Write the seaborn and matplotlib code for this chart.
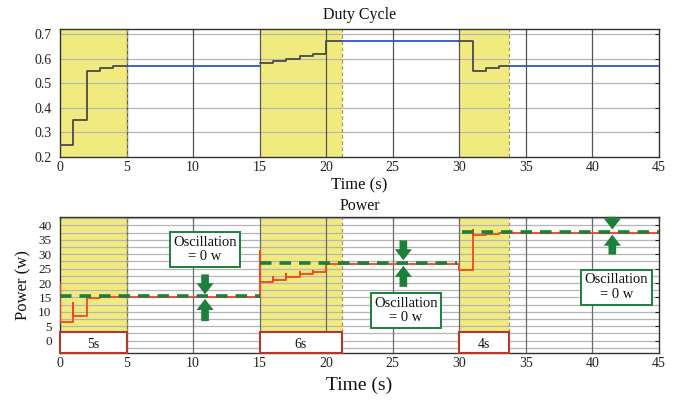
import matplotlib
matplotlib.use("Agg")
import matplotlib.pyplot as plt
import seaborn as sns
import numpy as np
from matplotlib.patches import Rectangle
from matplotlib.ticker import MultipleLocator

# ---------------- data ----------------
# Duty cycle step function (change times and levels)
duty_times = [0, 1, 2, 3, 4, 15, 16, 17, 18, 19, 20, 31, 32, 33]
duty_levels = [0.25, 0.35, 0.55, 0.56, 0.57, 0.58, 0.59, 0.60, 0.61, 0.62, 0.67, 0.55, 0.56, 0.57]

# Power step function: change times, settled levels and the overshoot at each change
power_times = [0, 1, 2, 3, 15, 16, 17, 18, 19, 20, 30, 31, 32, 33]
power_levels = [6.5, 8.5, 14.8, 15.2, 20.4, 21.2, 22.2, 23.0, 23.8, 26.6, 24.4, 36.6, 37.1, 37.3]
power_spikes = [20.0, 13.0, 15.2, 15.2, 31.0, 22.0, 23.0, 24.0, 24.2, 26.6, 24.4, 38.3, 37.2, 37.3]

# Reference (maximum) power levels, dashed green
ref_starts = [0, 15, 30.2]
ref_ends = [15, 29.8, 45]
ref_levels = [15.45, 27.0, 37.7]

# Tracking windows
win_starts = [0, 15, 30]
win_ends = [5, 21.2, 33.7]
win_labels = ["5s", "6s", "4s"]

# Oscillation annotations
osc_times = [10.9, 25.8, 41.5]
osc_down_from = [23.0, 34.8, 43.0]
osc_down_to = [16.1, 27.9, 38.6]
osc_up_from = [6.8, 18.7, 29.9]
osc_up_to = [14.5, 26.0, 36.8]
osc_box_x = [10.9, 26.0, 41.8]
osc_box_y = [31.7, 10.4, 18.6]
osc_text = "Oscillation\n= 0 w"

T_END = 45

# ---------------- style ----------------
sns.set_theme(style="white")
plt.rcParams["font.family"] = ["Liberation Serif", "DejaVu Serif"]

YELLOW = "#f1eb7f"
EDGE_Y = "#a39d45"
BLUE = "#2b57c0"
GRAYLINE = "#4a4a4a"
RED = "#f5451e"
GREEN = "#1d7f3c"
BOXRED = "#b23a2a"
VGRID = "#555555"
HGRID = "#b5b5b5"


def step_value(times, levels, t, before=False):
    v = levels[0]
    for ti, lv in zip(times, levels):
        if ti < t or (ti == t and not before):
            v = lv
    return v


def step_xy(times, levels, t0, t1):
    xs = [t0]
    ys = [step_value(times, levels, t0)]
    for ti, lv in zip(times, levels):
        if t0 < ti < t1:
            xs += [ti, ti]
            ys += [ys[-1], lv]
    xs.append(t1)
    ys.append(step_value(times, levels, t1, before=True))
    return xs, ys


fig = plt.figure(figsize=(6.8, 4.0), dpi=100)
ax1 = fig.add_axes([0.0882, 0.6075, 0.8808, 0.32])
ax2 = fig.add_axes([0.0882, 0.118, 0.8808, 0.34])


def style_axes(ax, vgrid):
    ax.set_xlim(0, T_END)
    ax.xaxis.set_major_locator(MultipleLocator(5))
    ax.tick_params(direction="in", length=3, width=0.8, top=True, right=True,
                   labelsize=10, colors="#222222")
    ax.tick_params(axis="x", pad=3)
    ax.tick_params(axis="y", pad=6)
    for s in ax.spines.values():
        s.set_color("#333333")
        s.set_linewidth(1.0)
    ax.set_axisbelow("line")
    ax.grid(False)
    for x in range(5, T_END, 5):
        ax.axvline(x, color=vgrid, lw=0.9, zorder=1.6)


# ---------------- top: duty cycle ----------------
ax1.set_ylim(0.2, 0.72)
style_axes(ax1, VGRID)
ax1.set_yticks([0.2, 0.3, 0.4, 0.5, 0.6, 0.7])
ax1.set_yticklabels(["0.2", "0.3", "0.4", "0.5", "0.6", "0.7"])
for y in [0.3, 0.4, 0.5, 0.6, 0.7]:
    ax1.axhline(y, color=HGRID, lw=0.9, zorder=1.5)
for a, b in zip(win_starts, win_ends):
    ax1.axvspan(a, b, color=YELLOW, lw=0, zorder=1)
    ax1.axvline(b, color=EDGE_Y, lw=0.9, ls=(0, (3, 2)), zorder=1.7)

bounds = sorted(set([0] + win_starts + win_ends + [T_END]))
for a, b in zip(bounds[:-1], bounds[1:]):
    inside = any(ws <= a and b <= we for ws, we in zip(win_starts, win_ends))
    xs, ys = step_xy(duty_times, duty_levels, a, b)
    sns.lineplot(x=xs, y=ys, ax=ax1, color=GRAYLINE if inside else BLUE,
                 lw=1.3, estimator=None, sort=False, zorder=3)

ax1.set_title("Duty Cycle", fontsize=11.5, pad=7, color="#111111")
ax1.set_xlabel("Time (s)", fontsize=12, labelpad=2, color="#111111")
ax1.set_ylabel("")

# ---------------- bottom: power ----------------
YMIN2, YMAX2 = -4.2, 43
BOX_TOP = 2.9
ax2.set_ylim(YMIN2, YMAX2)
style_axes(ax2, "#6a6a6a")
ax2.set_yticks(list(range(0, 41, 5)))
ax2.tick_params(axis="y", labelsize=9.5)
for y in np.arange(-2.5, 42.6, 2.5):
    ax2.axhline(y, color=HGRID, lw=0.9, zorder=1.5)

for a, b, lab in zip(win_starts, win_ends, win_labels):
    ax2.fill_between([a, b], BOX_TOP, YMAX2, color=YELLOW, lw=0, zorder=1)
    ax2.plot([b, b], [BOX_TOP, YMAX2], color=EDGE_Y, lw=0.9, ls=(0, (3, 2)), zorder=1.7)
    ax2.add_patch(Rectangle((a, YMIN2), b - a, BOX_TOP - YMIN2, facecolor="white",
                            edgecolor=BOXRED, lw=1.5, zorder=4, clip_on=False))
    ax2.text((a + b) / 2, (YMIN2 + BOX_TOP) / 2 - 0.5, lab, ha="center", va="center",
             fontsize=10, zorder=5, color="#111111")

# power curve
px, py = [0, 0], [power_spikes[0], power_levels[0]]
for i in range(1, len(power_times)):
    t = power_times[i]
    px += [t, t, t]
    py += [power_levels[i - 1], power_spikes[i], power_levels[i]]
px.append(T_END)
py.append(power_levels[-1])
sns.lineplot(x=px, y=py, ax=ax2, color=RED, lw=1.3, estimator=None, sort=False, zorder=3)

# reference dashed
for a, b, lv in zip(ref_starts, ref_ends, ref_levels):
    sns.lineplot(x=[a, b], y=[lv, lv], ax=ax2, color=GREEN, lw=2.6, estimator=None,
                 sort=False, zorder=3.5, linestyle=(0, (3.2, 2.2)))

# arrows
arrow_style = "simple,head_length=0.55,head_width=0.85,tail_width=0.38"
for t, d0, d1, u0, u1 in zip(osc_times, osc_down_from, osc_down_to, osc_up_from, osc_up_to):
    for s, e in [(d0, d1), (u0, u1)]:
        ax2.annotate("", xy=(t, e), xytext=(t, s),
                     arrowprops=dict(arrowstyle=arrow_style, color=GREEN, mutation_scale=14.5,
                                     shrinkA=0, shrinkB=0, lw=0),
                     zorder=6, annotation_clip=False)

for bx, by in zip(osc_box_x, osc_box_y):
    ax2.text(bx, by, osc_text, ha="center", va="center", fontsize=10.5, color="#111111",
             linespacing=1.15, zorder=7,
             bbox=dict(boxstyle="square,pad=0.25", facecolor="white", edgecolor=GREEN, lw=1.4))

ax2.set_title("Power", fontsize=11.5, pad=5, color="#111111")
ax2.set_xlabel("Time (s)", fontsize=14, labelpad=5, color="#111111")
ax2.set_ylabel("Power (w)", fontsize=12, labelpad=5, color="#111111")

fig.savefig("out.png", dpi=100, facecolor="white")
